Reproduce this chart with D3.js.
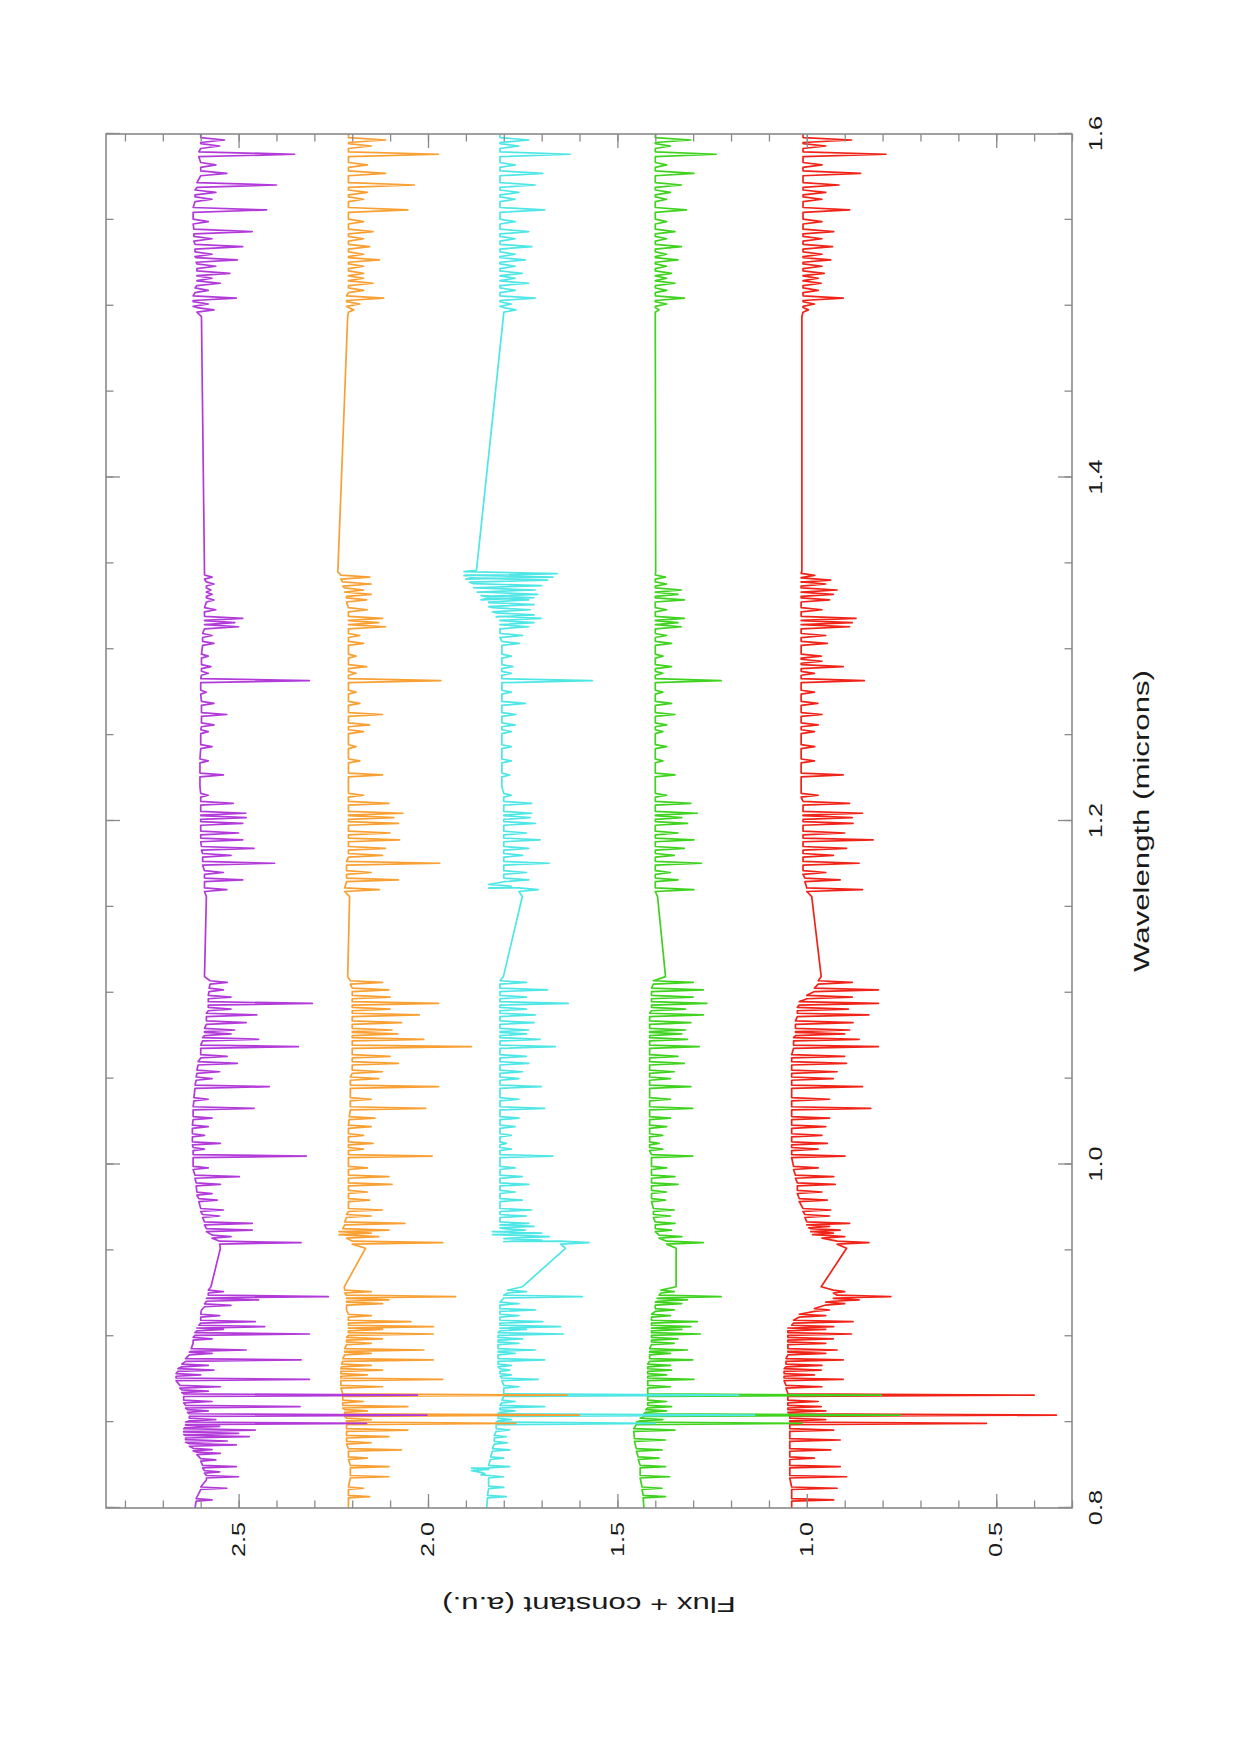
<!DOCTYPE html>
<html>
<head>
<meta charset="utf-8">
<script src="https://cdn.jsdelivr.net/npm/d3@7"></script>
<style>
  body { margin: 0; background: #fff; }
  text { font-family: "Liberation Sans", Arial, sans-serif; fill: #1a1a1a; }
</style>
</head>
<body>
<div id="chart"></div>
<script>
// Dades llegides de la figura: [longitud d'ona, continu, fons de la línia]
// (una entrada de dos valors és només un punt del continu)
const purple = [
  [0.8000,2.615],[0.8047,2.612,2.57],[0.8115,2.60,2.531],[0.8163,2.585],[0.8182,2.585,2.50],[0.8210,2.59,2.55],
  [0.8241,2.595,2.506],[0.8280,2.60,2.56],[0.8318,2.61,2.548],[0.8340,2.62,2.57],[0.8367,2.63,2.506],[0.8390,2.64,2.53],
  [0.8415,2.64,2.472],[0.8435,2.645,2.50],[0.8454,2.645,2.456],[0.8475,2.64,2.55],[0.8493,2.64,2.162],[0.8515,2.63,2.56],
  [0.8541,2.63,2.003],[0.8565,2.635,2.58],[0.8590,2.64,2.338],[0.8620,2.645,2.57],[0.8657,2.645,2.028],[0.8680,2.65,2.58],
  [0.8706,2.655,2.548],[0.8749,2.665,2.313],[0.8775,2.665,2.60],[0.8803,2.66,2.565],[0.8830,2.65,2.58],[0.8862,2.64,2.335],
  [0.8900,2.63,2.57],[0.8920,2.625,2.48],[0.8959,2.62],[0.8985,2.62,2.57],[0.9013,2.615,2.313],[0.9040,2.61,2.54],
  [0.9056,2.605,2.431],[0.9085,2.60,2.456],[0.9120,2.60,2.55],[0.9153,2.598],[0.9180,2.59,2.52],[0.9212,2.585,2.447],
  [0.9231,2.58,2.263],[0.9260,2.58,2.54],[0.9288,2.573],
  [0.9512,2.548],[0.9545,2.55,2.335],[0.9580,2.57,2.52],[0.9618,2.585,2.464],[0.9657,2.59,2.464],[0.9700,2.595,2.55],
  [0.9735,2.60,2.54],[0.9793,2.605,2.556],[0.9830,2.61,2.57],[0.9884,2.612,2.548],[0.9929,2.615,2.498],[0.9980,2.62,2.58],
  [1.0049,2.62,2.321],[1.0090,2.62,2.59],[1.0123,2.622,2.548],[1.0170,2.622,2.59],[1.0220,2.622,2.58],[1.0270,2.62,2.57],
  [1.0327,2.62,2.459],[1.0380,2.618,2.58],[1.0453,2.615,2.419],[1.0500,2.612,2.57],[1.0540,2.61,2.55],[1.0589,2.607,2.503],
  [1.0630,2.60,2.53],[1.0686,2.60,2.342],[1.0729,2.595,2.447],[1.0760,2.59,2.52],[1.0783,2.59,2.51],[1.0826,2.585,2.48],
  [1.0871,2.585,2.452],[1.0905,2.58,2.52],[1.0938,2.58,2.305],[1.0975,2.58,2.52],[1.1017,2.578,2.54],[1.1060,2.575,2.53],
  [1.1094,2.59],
  [1.1560,2.585],[1.1600,2.59,2.531],[1.1657,2.59,2.489],[1.1700,2.59,2.54],[1.1754,2.595,2.405],[1.1800,2.595,2.52],
  [1.1841,2.598,2.459],[1.1890,2.60,2.489],[1.1930,2.60,2.50],[1.1986,2.60,2.489],[1.2020,2.60,2.48],[1.2045,2.60,2.481],
  [1.2103,2.60,2.514],[1.2150,2.60,2.58],[1.2200,2.602],[1.2268,2.602,2.540],[1.2350,2.602,2.58],[1.2433,2.60,2.57],
  [1.2520,2.60,2.58],[1.2560,2.598,2.565],[1.2620,2.598,2.531],[1.2685,2.598,2.565],[1.2750,2.60,2.585],[1.2817,2.60,2.313],
  [1.2860,2.598,2.58],[1.2899,2.598,2.573],[1.2960,2.598,2.58],[1.3034,2.595,2.565],[1.3080,2.595,2.57],[1.3131,2.59,2.50],
  [1.3155,2.59,2.51],[1.3180,2.59,2.489],[1.3230,2.59,2.56],[1.3287,2.585,2.565],[1.3320,2.585,2.57],[1.3345,2.585,2.573],
  [1.3380,2.585,2.565],[1.3420,2.59,2.57],[1.3450,2.59],
  [1.4937,2.598],[1.4976,2.61,2.565],[1.5010,2.62,2.58],[1.5044,2.62,2.506],[1.5090,2.615,2.58],[1.5131,2.61,2.548],
  [1.5160,2.61,2.57],[1.5189,2.61,2.523],[1.5230,2.61,2.56],[1.5267,2.612,2.503],[1.5300,2.615,2.57],[1.5344,2.615,2.489],
  [1.5390,2.618,2.57],[1.5432,2.618,2.464],[1.5490,2.62,2.58],[1.5558,2.62,2.426],[1.5620,2.615,2.57],[1.5660,2.615,2.56],
  [1.5703,2.61,2.40],[1.5771,2.60,2.531],[1.5820,2.60,2.56],[1.5882,2.605,2.352],[1.5930,2.60,2.55],[1.5965,2.60,2.537],
  [1.6000,2.60]
];

const orange = [
  [0.8000,2.21],[0.8066,2.21,2.154],[0.8115,2.21,2.17],[0.8182,2.205,2.103],[0.8241,2.205,2.103],[0.8290,2.21,2.16],
  [0.8338,2.21,2.07],[0.8380,2.215,2.15],[0.8415,2.215,2.103],[0.8454,2.215,2.053],[0.8493,2.215,1.768],[0.8515,2.215,2.15],
  [0.8541,2.22,1.60],[0.8565,2.22,2.16],[0.8590,2.225,2.053],[0.8620,2.225,2.17],[0.8657,2.225,1.633],[0.8706,2.23,2.12],
  [0.8749,2.23,1.961],[0.8775,2.23,2.16],[0.8803,2.23,2.120],[0.8830,2.228,2.15],[0.8862,2.225,1.986],[0.8900,2.22,2.15],
  [0.8920,2.22,2.011],[0.8959,2.215,2.15],[0.8985,2.215,2.12],[0.9013,2.21,1.986],[0.9040,2.21,2.12],[0.9056,2.21,1.986],
  [0.9085,2.21,2.045],[0.9120,2.21,2.15],[0.9153,2.215],[0.9190,2.215,2.12],[0.9212,2.215,2.103],[0.9231,2.215,1.927],
  [0.9260,2.22,2.15],[0.9288,2.221],
  [0.9512,2.165],[0.9545,2.20,1.961],[0.9580,2.215,2.13],[0.9600,2.235,2.15],[0.9618,2.225,2.103],[0.9657,2.22,2.061],
  [0.9700,2.215,2.15],[0.9735,2.21,2.12],[0.9793,2.21,2.154],[0.9840,2.21,2.16],[0.9884,2.21,2.095],[0.9929,2.21,2.103],
  [0.9980,2.21,2.16],[1.0049,2.21,1.989],[1.0090,2.21,2.17],[1.0123,2.21,2.145],[1.0170,2.21,2.17],[1.0220,2.21,2.15],
  [1.0270,2.208,2.14],[1.0327,2.205,2.006],[1.0380,2.205,2.15],[1.0453,2.205,1.972],[1.0500,2.205,2.13],[1.0540,2.20,2.12],
  [1.0589,2.20,2.078],[1.0630,2.20,2.10],[1.0686,2.20,1.885],[1.0729,2.20,2.011],[1.0760,2.20,2.08],[1.0783,2.20,2.095],
  [1.0826,2.20,2.070],[1.0871,2.20,2.023],[1.0905,2.20,2.10],[1.0938,2.20,1.972],[1.0975,2.20,2.10],[1.1017,2.20,2.103],
  [1.1060,2.205,2.12],[1.1094,2.212],
  [1.1560,2.207],[1.1600,2.22,2.128],[1.1657,2.215,2.078],[1.1700,2.215,2.15],[1.1754,2.215,1.969],[1.1800,2.21,2.12],
  [1.1841,2.21,2.112],[1.1890,2.21,2.075],[1.1930,2.21,2.10],[1.1986,2.21,2.078],[1.2020,2.21,2.09],[1.2045,2.21,2.066],
  [1.2103,2.21,2.103],[1.2150,2.21,2.17],[1.2200,2.21],[1.2268,2.21,2.120],[1.2350,2.21,2.18],[1.2433,2.21,2.19],
  [1.2520,2.21,2.17],[1.2560,2.21,2.154],[1.2620,2.21,2.120],[1.2685,2.21,2.18],[1.2750,2.21,2.19],[1.2817,2.21,1.966],
  [1.2860,2.21,2.19],[1.2899,2.21,2.162],[1.2960,2.21,2.19],[1.3034,2.21,2.17],[1.3080,2.21,2.18],[1.3131,2.21,2.112],
  [1.3155,2.21,2.13],[1.3180,2.21,2.120],[1.3230,2.21,2.16],[1.3287,2.215,2.162],[1.3320,2.215,2.15],[1.3345,2.22,2.17],
  [1.3380,2.225,2.15],[1.3420,2.23,2.154],[1.3450,2.238],
  [1.4937,2.212],[1.4976,2.21,2.196],[1.5010,2.215,2.18],[1.5044,2.215,2.117],[1.5090,2.21,2.17],[1.5131,2.21,2.145],
  [1.5160,2.21,2.17],[1.5189,2.21,2.170],[1.5230,2.21,2.17],[1.5267,2.21,2.128],[1.5300,2.21,2.17],[1.5344,2.21,2.154],
  [1.5390,2.21,2.17],[1.5432,2.21,2.145],[1.5490,2.21,2.17],[1.5558,2.21,2.053],[1.5620,2.21,2.17],[1.5660,2.21,2.16],
  [1.5703,2.21,2.036],[1.5771,2.21,2.112],[1.5820,2.21,2.16],[1.5882,2.21,1.972],[1.5930,2.21,2.15],[1.5965,2.21,2.112],
  [1.6000,2.21]
];

const cyan = [
  [0.8000,1.845],[0.8066,1.843,1.793],[0.8120,1.84,1.80],[0.8182,1.84,1.801],[0.8200,1.86,1.85],[0.8225,1.885,1.84],
  [0.8241,1.84,1.784],[0.8290,1.835,1.80],[0.8338,1.83,1.784],[0.8380,1.825,1.79],[0.8415,1.825,1.793],[0.8454,1.82,1.784],
  [0.8493,1.82,1.40],[0.8515,1.815,1.78],[0.8541,1.815,1.138],[0.8565,1.81,1.77],[0.8590,1.81,1.692],[0.8620,1.805,1.77],
  [0.8657,1.80,1.180],[0.8706,1.80,1.76],[0.8749,1.805,1.709],[0.8775,1.81,1.78],[0.8803,1.81,1.784],[0.8830,1.815,1.78],
  [0.8862,1.815,1.692],[0.8900,1.815,1.77],[0.8920,1.815,1.717],[0.8959,1.815,1.76],[0.8985,1.815,1.75],[0.9013,1.815,1.642],
  [0.9040,1.81,1.74],[0.9056,1.81,1.650],[0.9085,1.81,1.697],[0.9120,1.81,1.76],[0.9153,1.81,1.717],[0.9190,1.81,1.76],
  [0.9231,1.80,1.592],[0.9260,1.79,1.74],[0.9288,1.751],
  [0.9512,1.637],[0.9545,1.65,1.575],[0.9560,1.80,1.70],[0.9580,1.78,1.68],[0.9600,1.83,1.70],[0.9618,1.80,1.743],
  [0.9640,1.81,1.72],[0.9657,1.81,1.734],[0.9700,1.81,1.74],[0.9735,1.81,1.726],[0.9793,1.81,1.751],[0.9840,1.81,1.77],
  [0.9884,1.81,1.734],[0.9929,1.81,1.751],[0.9980,1.81,1.77],[1.0049,1.81,1.670],[1.0090,1.81,1.78],[1.0123,1.81,1.793],
  [1.0170,1.81,1.78],[1.0220,1.81,1.77],[1.0270,1.81,1.76],[1.0327,1.81,1.692],[1.0380,1.81,1.76],[1.0453,1.81,1.701],
  [1.0500,1.81,1.76],[1.0540,1.81,1.75],[1.0589,1.81,1.734],[1.0630,1.81,1.74],[1.0686,1.81,1.664],[1.0729,1.81,1.704],
  [1.0760,1.81,1.74],[1.0783,1.81,1.734],[1.0826,1.81,1.72],[1.0871,1.81,1.717],[1.0905,1.81,1.74],[1.0938,1.81,1.630],
  [1.0975,1.81,1.74],[1.1017,1.81,1.684],[1.1060,1.81,1.74],[1.1094,1.801],
  [1.1560,1.751],[1.1600,1.76,1.709],[1.1620,1.84,1.78],[1.1657,1.80,1.734],[1.1700,1.80,1.74],[1.1754,1.80,1.680],
  [1.1800,1.80,1.75],[1.1841,1.80,1.734],[1.1890,1.80,1.704],[1.1930,1.80,1.74],[1.1986,1.80,1.717],[1.2020,1.80,1.73],
  [1.2045,1.80,1.726],[1.2103,1.80,1.726],[1.2150,1.80,1.78],[1.2200,1.805],[1.2268,1.805,1.784],[1.2350,1.805,1.78],
  [1.2433,1.805,1.78],[1.2520,1.805,1.78],[1.2560,1.805,1.77],[1.2620,1.805,1.768],[1.2685,1.805,1.743],[1.2750,1.805,1.78],
  [1.2817,1.805,1.566],[1.2860,1.805,1.78],[1.2899,1.805,1.776],[1.2960,1.805,1.78],[1.3034,1.805,1.759],[1.3080,1.81,1.75],
  [1.3131,1.81,1.734],[1.3155,1.81,1.72],[1.3180,1.81,1.701],[1.3200,1.82,1.72],[1.3230,1.83,1.73],[1.3260,1.84,1.72],
  [1.3287,1.84,1.734],[1.3300,1.86,1.72],[1.3320,1.85,1.71],[1.3345,1.87,1.717],[1.3370,1.88,1.70],[1.3403,1.89,1.684],
  [1.3420,1.90,1.67],[1.3440,1.905,1.659],[1.3460,1.872],
  [1.4937,1.801],[1.4976,1.80,1.768],[1.5010,1.81,1.78],[1.5044,1.81,1.717],[1.5090,1.81,1.77],[1.5131,1.81,1.734],
  [1.5160,1.81,1.77],[1.5189,1.81,1.751],[1.5230,1.81,1.77],[1.5267,1.81,1.743],[1.5300,1.81,1.77],[1.5344,1.81,1.726],
  [1.5390,1.81,1.77],[1.5432,1.81,1.734],[1.5490,1.81,1.77],[1.5558,1.81,1.692],[1.5620,1.81,1.77],[1.5660,1.81,1.76],
  [1.5703,1.81,1.717],[1.5771,1.81,1.697],[1.5820,1.81,1.77],[1.5882,1.81,1.625],[1.5930,1.81,1.76],[1.5965,1.81,1.734],
  [1.6000,1.81]
];

const green = [
  [0.8000,1.43],[0.8066,1.432,1.373],[0.8115,1.435,1.382],[0.8182,1.44,1.362],[0.8241,1.44,1.373],[0.8290,1.445,1.39],
  [0.8338,1.45,1.382],[0.8396,1.455,1.373],[0.8454,1.457,1.348],[0.8493,1.45,1.013],[0.8515,1.44,1.38],[0.8541,1.43,0.753],
  [0.8565,1.425,1.37],[0.8590,1.42,1.357],[0.8620,1.42,1.37],[0.8657,1.42,0.803],[0.8706,1.42,1.36],[0.8749,1.42,1.298],
  [0.8775,1.42,1.37],[0.8803,1.42,1.357],[0.8830,1.42,1.36],[0.8862,1.415,1.301],[0.8900,1.415,1.36],[0.8920,1.415,1.315],
  [0.8959,1.41,1.35],[0.8985,1.41,1.34],[0.9013,1.41,1.281],[0.9040,1.41,1.33],[0.9056,1.41,1.306],[0.9085,1.41,1.289],
  [0.9120,1.41,1.36],[0.9153,1.40,1.35],[0.9190,1.40,1.33],[0.9212,1.395,1.315],[0.9231,1.39,1.226],[0.9260,1.385,1.35],
  [0.9288,1.345],
  [0.9512,1.345],[0.9545,1.37,1.273],[0.9580,1.39,1.33],[0.9618,1.40,1.357],[0.9657,1.40,1.348],[0.9700,1.405,1.36],
  [0.9735,1.405,1.35],[0.9793,1.41,1.373],[0.9840,1.41,1.37],[0.9884,1.41,1.340],[0.9929,1.41,1.348],[0.9980,1.41,1.37],
  [1.0049,1.41,1.301],[1.0090,1.415,1.38],[1.0123,1.415,1.390],[1.0170,1.415,1.38],[1.0220,1.415,1.37],[1.0270,1.415,1.36],
  [1.0327,1.415,1.301],[1.0380,1.415,1.36],[1.0453,1.415,1.306],[1.0500,1.415,1.36],[1.0540,1.415,1.35],[1.0589,1.415,1.323],
  [1.0630,1.415,1.34],[1.0686,1.415,1.284],[1.0729,1.415,1.315],[1.0760,1.415,1.33],[1.0783,1.415,1.32],[1.0826,1.415,1.306],
  [1.0871,1.415,1.273],[1.0905,1.41,1.32],[1.0938,1.41,1.264],[1.0975,1.41,1.30],[1.1017,1.41,1.273],[1.1060,1.405,1.30],
  [1.1094,1.373],
  [1.1560,1.394],[1.1600,1.40,1.298],[1.1657,1.40,1.340],[1.1700,1.40,1.36],[1.1754,1.40,1.278],[1.1800,1.40,1.35],
  [1.1841,1.40,1.323],[1.1890,1.40,1.298],[1.1930,1.40,1.34],[1.1986,1.40,1.315],[1.2020,1.40,1.33],[1.2045,1.40,1.289],
  [1.2103,1.40,1.306],[1.2150,1.40,1.37],[1.2200,1.40],[1.2268,1.40,1.348],[1.2350,1.40,1.38],[1.2433,1.40,1.37],
  [1.2520,1.40,1.38],[1.2560,1.40,1.37],[1.2620,1.40,1.348],[1.2685,1.40,1.357],[1.2750,1.40,1.38],[1.2817,1.40,1.226],
  [1.2860,1.40,1.38],[1.2899,1.40,1.357],[1.2960,1.40,1.38],[1.3034,1.40,1.357],[1.3080,1.40,1.37],[1.3131,1.40,1.331],
  [1.3155,1.40,1.34],[1.3180,1.40,1.323],[1.3230,1.40,1.37],[1.3287,1.40,1.323],[1.3320,1.40,1.34],[1.3345,1.40,1.331],
  [1.3380,1.40,1.37],[1.3420,1.40,1.373],[1.3450,1.399],
  [1.4937,1.40],[1.4976,1.40,1.390],[1.5010,1.40,1.37],[1.5044,1.40,1.323],[1.5090,1.40,1.37],[1.5131,1.40,1.348],
  [1.5160,1.40,1.37],[1.5189,1.40,1.357],[1.5230,1.40,1.37],[1.5267,1.40,1.340],[1.5300,1.40,1.37],[1.5344,1.40,1.331],
  [1.5390,1.40,1.37],[1.5432,1.40,1.348],[1.5490,1.40,1.37],[1.5558,1.40,1.318],[1.5620,1.40,1.37],[1.5660,1.40,1.36],
  [1.5703,1.40,1.331],[1.5771,1.40,1.298],[1.5820,1.40,1.37],[1.5882,1.40,1.239],[1.5930,1.40,1.36],[1.5965,1.40,1.306],
  [1.6000,1.40]
];

const red = [
  [0.8000,1.04],[0.8047,1.04,0.929],[0.8115,1.04,0.920],[0.8182,1.045,0.895],[0.8241,1.045,0.912],[0.8290,1.045,0.98],
  [0.8338,1.045,0.937],[0.8396,1.045,0.912],[0.8454,1.045,0.929],[0.8493,1.045,0.526],[0.8515,1.045,0.95],[0.8541,1.045,0.341],
  [0.8565,1.05,0.95],[0.8590,1.05,0.962],[0.8620,1.05,0.97],[0.8657,1.05,0.400],[0.8706,1.055,0.96],[0.8749,1.06,0.904],
  [0.8775,1.06,0.98],[0.8803,1.06,0.962],[0.8830,1.055,0.96],[0.8862,1.055,0.904],[0.8900,1.05,0.95],[0.8920,1.05,0.920],
  [0.8959,1.05,0.95],[0.8985,1.05,0.93],[0.9013,1.05,0.882],[0.9040,1.05,0.95],[0.9056,1.04,0.929],[0.9085,1.035,0.878],
  [0.9120,1.02,0.95],[0.9153,0.98,0.94],[0.9190,0.95,0.90],[0.9212,0.93,0.862],[0.9231,0.92,0.778],[0.9260,0.93,0.90],
  [0.9288,0.962],
  [0.9512,0.895],[0.9545,0.92,0.836],[0.9580,0.96,0.90],[0.9600,0.985,0.93],[0.9618,0.99,0.912],[0.9640,0.995,0.94],
  [0.9657,1.00,0.887],[0.9700,1.005,0.94],[0.9735,1.01,0.937],[0.9793,1.02,0.946],[0.9840,1.025,0.96],[0.9884,1.025,0.925],
  [0.9929,1.03,0.929],[0.9980,1.035,0.97],[1.0049,1.04,0.899],[1.0090,1.04,0.97],[1.0123,1.04,0.946],[1.0170,1.04,0.96],
  [1.0220,1.04,0.95],[1.0270,1.04,0.94],[1.0327,1.04,0.831],[1.0380,1.04,0.94],[1.0453,1.04,0.853],[1.0500,1.04,0.93],
  [1.0540,1.04,0.92],[1.0589,1.04,0.895],[1.0630,1.04,0.90],[1.0686,1.035,0.811],[1.0729,1.035,0.862],[1.0760,1.03,0.90],
  [1.0783,1.03,0.887],[1.0826,1.03,0.878],[1.0871,1.025,0.836],[1.0905,1.025,0.89],[1.0938,1.02,0.811],[1.0975,1.00,0.88],
  [1.1017,0.98,0.811],[1.1060,0.97,0.88],[1.1094,0.962],
  [1.1560,0.987],[1.1600,1.00,0.853],[1.1657,1.005,0.912],[1.1700,1.01,0.95],[1.1754,1.01,0.862],[1.1800,1.01,0.93],
  [1.1841,1.01,0.895],[1.1890,1.01,0.825],[1.1930,1.01,0.90],[1.1986,1.01,0.878],[1.2020,1.01,0.88],[1.2045,1.01,0.853],
  [1.2103,1.01,0.887],[1.2150,1.015,0.97],[1.2200,1.015],[1.2268,1.015,0.904],[1.2350,1.015,0.98],[1.2433,1.015,0.979],
  [1.2520,1.015,0.98],[1.2560,1.015,0.97],[1.2620,1.015,0.96],[1.2685,1.015,0.971],[1.2750,1.015,0.98],[1.2817,1.015,0.848],
  [1.2860,1.015,0.98],[1.2899,1.015,0.904],[1.2930,1.015,0.96],[1.2960,1.015,0.962],[1.3034,1.015,0.946],[1.3080,1.015,0.95],
  [1.3131,1.015,0.887],[1.3155,1.015,0.88],[1.3180,1.015,0.870],[1.3230,1.015,0.96],[1.3287,1.015,0.94],[1.3320,1.015,0.93],
  [1.3345,1.015,0.920],[1.3380,1.015,0.95],[1.3403,1.015,0.937],[1.3430,1.015,0.979],[1.3455,1.013],
  [1.4937,1.013],[1.4976,1.01,0.996],[1.5010,1.01,0.98],[1.5044,1.01,0.904],[1.5090,1.01,0.97],[1.5131,1.01,0.962],
  [1.5160,1.01,0.97],[1.5189,1.01,0.954],[1.5230,1.01,0.96],[1.5267,1.01,0.937],[1.5300,1.01,0.96],[1.5344,1.01,0.932],
  [1.5390,1.01,0.96],[1.5432,1.01,0.929],[1.5490,1.01,0.96],[1.5558,1.01,0.887],[1.5620,1.01,0.96],[1.5660,1.01,0.95],
  [1.5703,1.01,0.915],[1.5771,1.01,0.858],[1.5820,1.01,0.96],[1.5882,1.01,0.791],[1.5930,1.01,0.95],[1.5965,1.01,0.882],
  [1.6000,1.01]
];

// Eixos: valors amb etiqueta
const wlTicks = [0.8, 1.0, 1.2, 1.4, 1.6];
const fluxTicks = [0.5, 1.0, 1.5, 2.0, 2.5];

// Ordre de dibuix: el vermell primer, el lila a sobre
const seriesData = [red, green, cyan, orange, purple];
const seriesColors = ["#ef2318", "#3fd21f", "#4fe6e6", "#f8a033", "#b23ad9"];

// La figura original està girada 90 graus dins la pàgina
const frame = { left: 106, right: 1072, top: 134, bottom: 1508 };
const width = frame.bottom - frame.top;    // direcció de la longitud d'ona
const height = frame.right - frame.left;   // direcció del flux
const stretch = 1.45;                      // lletra eixamplada com a l'original

const svg = d3.select("#chart")
    .append("svg")
        .attr("width", 1241)
        .attr("height", 1754);

svg.append("rect")
    .attr("width", 1241)
    .attr("height", 1754)
    .attr("fill", "#fff");

const g = svg.append("g")
    .attr("transform", `translate(${frame.left}, ${frame.bottom}) rotate(-90)`);

const x = d3.scaleLinear().domain([0.8, 1.6]).range([0, width]);
const y = d3.scaleLinear().domain([0.3, 2.85]).range([height, 0]);

g.append("clipPath")
    .attr("id", "clip")
    .append("rect")
        .attr("width", width)
        .attr("height", height);

// Cada línia d'absorció es dibuixa com una punxa estreta
function spectrumPoints(rows) {
    const pts = [];
    rows.forEach(function(r) {
        if (r.length === 2) {
            pts.push([r[0], r[1]]);
        } else {
            const hw = r[0] * 0.0009;
            pts.push([r[0] - hw, r[1]], [r[0], r[2]], [r[0] + hw, r[1]]);
        }
    });
    return pts;
}

const line = d3.line()
    .x(d => x(d[0]))
    .y(d => y(d[1]));

g.append("g")
    .attr("clip-path", "url(#clip)")
    .selectAll("path")
    .data(seriesData)
    .enter()
    .append("path")
        .attr("d", d => line(spectrumPoints(d)))
        .attr("fill", "none")
        .attr("stroke", (d, i) => seriesColors[i])
        .attr("stroke-width", 1.7)
        .attr("stroke-linejoin", "round");

// Marques dels eixos (cap a dins, als quatre costats)
function styleAxis(sel) {
    sel.select(".domain").remove();
    sel.selectAll("line").attr("stroke", "#8a8a8a").attr("stroke-width", 1.3);
    sel.selectAll("text")
        .attr("fill", "#1a1a1a")
        .style("font-size", "17.5px")
        .style("font-family", "'Liberation Sans', Arial, sans-serif");
}

// longitud d'ona (costat de baix a la figura original)
g.append("g")
    .attr("transform", `translate(0, ${height})`)
    .call(d3.axisBottom(x).ticks(16).tickSize(-7.5).tickFormat(""))
    .call(styleAxis);
g.append("g")
    .attr("transform", `translate(0, ${height})`)
    .call(d3.axisBottom(x).tickValues(wlTicks).tickSize(-14).tickPadding(18).tickFormat(d3.format(".1f")))
    .call(styleAxis)
    .selectAll("text").attr("transform", `scale(${stretch},1)`);
g.append("g")
    .call(d3.axisTop(x).ticks(16).tickSize(-7.5).tickFormat(""))
    .call(styleAxis);
g.append("g")
    .call(d3.axisTop(x).tickValues(wlTicks).tickSize(-14).tickFormat(""))
    .call(styleAxis);

// flux (costat esquerre a la figura original)
g.append("g")
    .call(d3.axisLeft(y).ticks(25).tickSize(-7.5).tickFormat(""))
    .call(styleAxis);
g.append("g")
    .call(d3.axisLeft(y).tickValues(fluxTicks).tickSize(-14).tickPadding(9.5).tickFormat(d3.format(".1f")))
    .call(styleAxis)
    .selectAll("text").attr("transform", `scale(${stretch},1)`);
g.append("g")
    .attr("transform", `translate(${width}, 0)`)
    .call(d3.axisRight(y).ticks(25).tickSize(-7.5).tickFormat(""))
    .call(styleAxis);
g.append("g")
    .attr("transform", `translate(${width}, 0)`)
    .call(d3.axisRight(y).tickValues(fluxTicks).tickSize(-14).tickFormat(""))
    .call(styleAxis);

// Marc
g.append("rect")
    .attr("width", width)
    .attr("height", height)
    .attr("fill", "none")
    .attr("stroke", "#8a8a8a")
    .attr("stroke-width", 1.6);

// Títols dels eixos
g.append("text")
    .attr("transform", `translate(${width / 2}, ${height + 77}) scale(${stretch},1)`)
    .attr("text-anchor", "middle")
    .style("font-size", "21.5px")
    .text("Wavelength (microns)");

g.append("text")
    .attr("transform", `translate(-89, ${height / 2}) rotate(-90) scale(${stretch},1)`)
    .attr("text-anchor", "middle")
    .style("font-size", "21.5px")
    .text("Flux + constant (a.u.)");
</script>
</body>
</html>
